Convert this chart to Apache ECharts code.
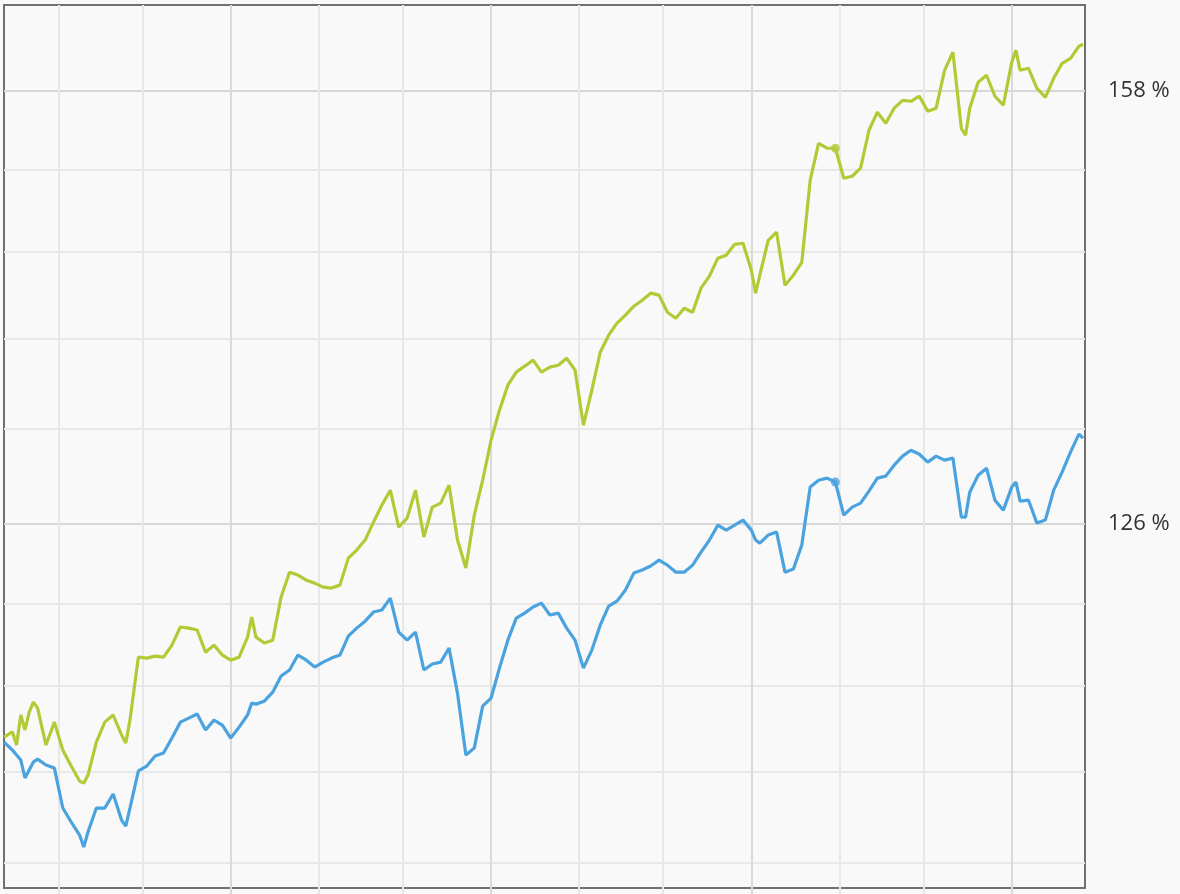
<!DOCTYPE html>
<html>
<head>
<meta charset="utf-8">
<script src="https://cdn.jsdelivr.net/npm/echarts@6/dist/echarts.min.js"></script>
<style>
html,body{margin:0;padding:0;background:#f9f9f9;}
#chart{width:1180px;height:894px;}
</style>
</head>
<body>
<div id="chart"></div>
<script>
// trading-day index of each sample
const days = [0,2,3,4,5,6,7,8,10,12,14,16,18,19,20,22,24,26,28,29,30,32,34,36,38,40,42,44,46,48,50,52,54,56,58,59,60,62,64,66,68,70,72,74,76,78,80,82,84,86,88,90,92,94,96,98,100,102,104,106,108,110,112,114,116,118,120,122,124,126,128,130,132,134,136,138,140,142,144,146,148,150,152,154,156,158,160,162,164,166,168,170,172,174,176,178,179,180,182,184,186,188,190,192,194,196,198,200,202,204,206,208,210,212,214,216,218,220,222,224,226,228,229,230,232,234,236,238,240,241,242,244,246,248,250,252,254,256,257];

// green series (%)
const greenValues = [112.44,112.74,111.96,113.76,112.86,113.94,114.54,114.18,111.96,113.33,111.66,110.72,109.84,109.72,110.19,112.14,113.33,113.76,112.56,112.08,113.45,117.31,117.25,117.37,117.31,118.06,119.20,119.13,119.01,117.62,118.06,117.44,117.12,117.31,118.56,119.83,118.56,118.19,118.37,121.11,122.72,122.53,122.20,122.01,121.75,121.69,121.88,123.64,124.17,124.83,126.02,127.17,128.18,125.69,126.29,128.18,125.03,127.03,127.30,128.52,124.83,122.99,126.49,128.86,131.63,133.74,135.53,136.47,136.90,137.34,136.47,136.83,136.97,137.48,136.61,132.68,135.17,137.92,139.17,140.06,140.66,141.33,141.78,142.31,142.16,140.88,140.43,141.18,140.88,142.69,143.60,144.97,145.21,146.05,146.13,144.05,142.31,143.67,146.36,146.99,142.91,143.67,144.66,151.10,154.09,153.69,153.69,151.26,151.42,152.07,155.16,156.65,155.74,156.99,157.65,157.57,157.99,156.73,156.99,160.18,161.72,155.32,154.75,156.99,159.16,159.76,157.99,157.24,160.86,161.89,160.18,160.35,158.66,157.90,159.50,160.78,161.20,162.24,162.41];

// blue series (%)
const blueValues = [112.14,111.66,111.37,111.07,110.02,110.49,110.96,111.13,110.78,110.60,108.28,107.48,106.74,106.06,106.91,108.28,108.28,109.09,107.59,107.25,108.28,110.43,110.72,111.31,111.49,112.38,113.33,113.57,113.82,112.86,113.45,113.15,112.38,113.03,113.76,114.48,114.42,114.60,115.15,116.14,116.51,117.44,117.12,116.69,117.00,117.25,117.44,118.63,119.13,119.57,120.15,120.28,121.04,118.88,118.37,118.88,116.51,116.88,117.00,117.87,115.09,111.37,111.78,114.30,114.79,116.63,118.37,119.76,120.08,120.47,120.72,119.96,120.08,119.13,118.37,116.63,117.75,119.32,120.53,120.85,121.56,122.66,122.86,123.12,123.51,123.18,122.72,122.72,123.18,124.03,124.83,125.82,125.49,125.82,126.16,125.49,124.83,124.63,125.16,125.36,122.72,122.92,124.50,128.39,128.86,129.00,128.73,126.49,127.03,127.30,128.11,129.00,129.14,129.89,130.52,130.93,130.65,130.10,130.52,130.24,130.38,126.36,126.36,128.04,129.20,129.68,127.50,126.83,128.39,128.73,127.44,127.50,125.96,126.16,128.18,129.41,130.79,132.05,131.77];

// axis ticks
const monthStartDays = [13,33,75,95,137,157,199,219];
const quarterStartDays = [54,116,178,240];
const majorYTicks = [125.89,158.49];
const minorYTicks = [105.18,110.36,115.53,120.71,132.41,138.93,145.45,151.97];
const markedDay = 198;

const X_MIN = 0, X_MAX = 257.45, Y_MIN = 103.78, Y_MAX = 165.83;

const chart = echarts.init(document.getElementById('chart'));
const greenData = days.map((d, i) => [d, greenValues[i]]);
const blueData = days.map((d, i) => [d, blueValues[i]]);
const mi = days.indexOf(markedDay);

function xAxisDef(ticks, color) {
  return {
    type: 'value', min: X_MIN, max: X_MAX, position: 'bottom',
    axisLine: { show: false },
    axisLabel: { show: false },
    axisTick: { show: true, length: 6, customValues: ticks, lineStyle: { color: color, width: 2 } },
    splitLine: { show: true, lineStyle: { color: color, width: 2 } }
  };
}
function yAxisDef(ticks, color, tickLen, showLabel) {
  return {
    type: 'log', logBase: 10, min: Y_MIN, max: Y_MAX, position: 'right',
    axisLine: { show: false },
    axisTick: { show: true, length: tickLen, customValues: ticks, lineStyle: { color: color, width: 2 } },
    axisLabel: {
      show: showLabel, customValues: ticks, margin: 23,
      color: '#333333', fontSize: 22, fontFamily: 'Open Sans',
      formatter: v => Math.round(v) + ' %'
    },
    splitLine: { show: true, lineStyle: { color: color, width: 2 } }
  };
}

chart.setOption({
  backgroundColor: '#f9f9f9',
  animation: false,
  grid: { left: 4, top: 5, right: 95, bottom: 6, show: true, borderColor: '#707070', borderWidth: 2 },
  xAxis: [xAxisDef(monthStartDays, '#e8e8e8'), xAxisDef(quarterStartDays, '#dadada')],
  yAxis: [yAxisDef(majorYTicks, '#d8d8d8', 14, true), yAxisDef(minorYTicks, '#e8e8e8', 11, false)],
  series: [
    { type: 'line', data: greenData, showSymbol: false, lineStyle: { color: '#b4c936', width: 3.2 }, itemStyle: { color: '#b4c936' } },
    { type: 'line', data: blueData, showSymbol: false, lineStyle: { color: '#4aa3df', width: 3.2 }, itemStyle: { color: '#4aa3df' } },
    { type: 'scatter', data: [[days[mi], greenValues[mi]]], symbolSize: 9, itemStyle: { color: '#b4c936' } },
    { type: 'scatter', data: [[days[mi], blueValues[mi]]], symbolSize: 9, itemStyle: { color: '#4aa3df' } }
  ]
});
</script>
</body>
</html>
